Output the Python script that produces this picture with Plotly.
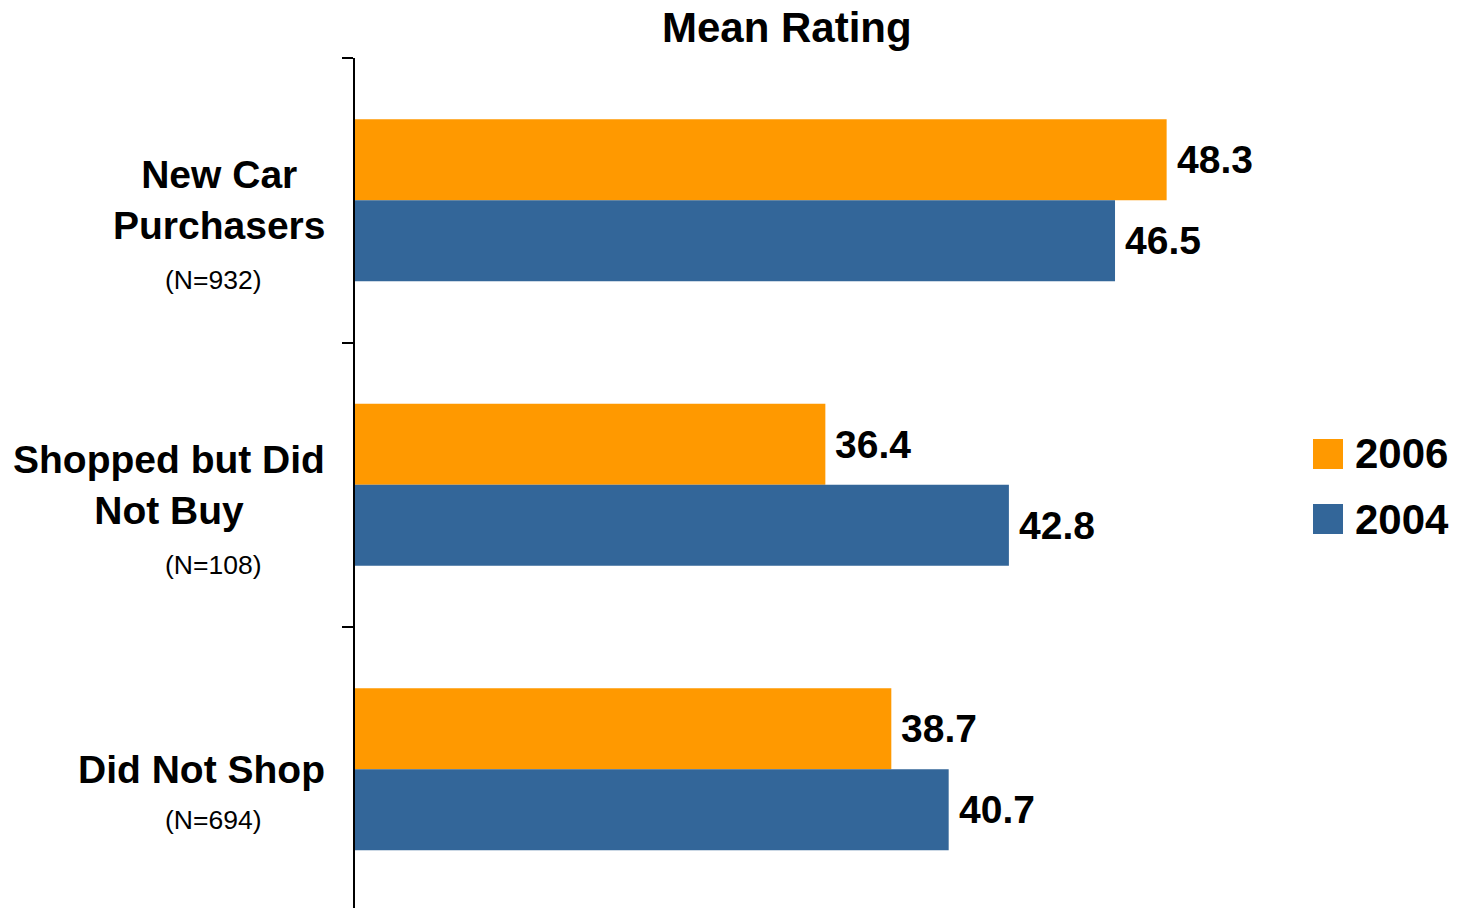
import plotly.graph_objects as go

# ---- data -------------------------------------------------------------
categories = ["New Car<br>Purchasers", "Shopped but Did<br>Not Buy", "Did Not Shop"]
sample_sizes = ["(N=932)", "(N=108)", "(N=694)"]
series_names = ["2006", "2004"]
rating_2006 = [48.3, 36.4, 38.7]
rating_2004 = [46.5, 42.8, 40.7]

# ---- styling ----------------------------------------------------------
ORANGE = "#FF9900"
BLUE = "#336699"
FONT = "Liberation Sans, Arial, sans-serif"

W, H = 1458, 908
L, R, T, B = 355, 238, 58, 0
PW, PH = W - L - R, H - T - B
X_START = 20
PX_PER_UNIT = 28.68
BAND_PX = 284.5
BARGAP = 0.43


def paper_x(px):
    return (px - L) / PW


def paper_y(py):
    return 1 - (py - T) / PH


positions = list(range(len(categories)))
series = [(series_names[0], rating_2006, ORANGE), (series_names[1], rating_2004, BLUE)]

fig = go.Figure()
for name, vals, color in series:
    fig.add_trace(go.Bar(
        y=positions, x=vals, name=name, orientation="h",
        marker=dict(color=color, line=dict(width=0)),
        showlegend=False, hoverinfo="x+name",
    ))

annotations = []

# value labels at the end of each bar
bar_w = (1 - BARGAP) / len(series)
for s_i, (name, vals, color) in enumerate(series):
    offset = -(1 - BARGAP) / 2 + bar_w * (s_i + 0.5)
    for i, v in enumerate(vals):
        annotations.append(dict(
            x=v, y=positions[i] + offset, xref="x", yref="y",
            text=f"<b>{v:.1f}</b>", showarrow=False,
            xanchor="left", yanchor="middle", xshift=8,
            font=dict(family=FONT, size=39, color="black"),
        ))

# category labels and sample sizes
for i, (cat, n) in enumerate(zip(categories, sample_sizes)):
    two_line = "<br>" in cat
    annotations.append(dict(
        x=0, y=positions[i], xref="paper", yref="y",
        text=f"<b>{cat}</b>", showarrow=False,
        xanchor="right", yanchor="middle", align="center", xshift=-28,
        font=dict(family=FONT, size=39, color="black"),
    ))
    annotations.append(dict(
        x=0, y=positions[i], xref="paper", yref="y",
        text=n, showarrow=False,
        xanchor="center", yanchor="middle", xshift=213 - L,
        yshift=-80 if two_line else -51,
        font=dict(family=FONT, size=26.5, color="black"),
    ))

# chart title
annotations.append(dict(
    x=paper_x(787), y=paper_y(28), xref="paper", yref="paper",
    text="<b>Mean Rating</b>", showarrow=False,
    xanchor="center", yanchor="middle",
    font=dict(family=FONT, size=42, color="black"),
))

# legend: coloured squares with year labels
shapes = []
legend_rows = [(439, series[0]), (504, series[1])]
for top, (name, vals, color) in legend_rows:
    shapes.append(dict(
        type="rect", xref="paper", yref="paper",
        x0=paper_x(1313), x1=paper_x(1343), y0=paper_y(top + 30), y1=paper_y(top),
        fillcolor=color, line=dict(width=0),
    ))
    annotations.append(dict(
        x=paper_x(1353), y=paper_y(top + 15), xref="paper", yref="paper",
        text=f"<b>{name}</b>", showarrow=False,
        xanchor="left", yanchor="middle",
        font=dict(family=FONT, size=42, color="black"),
    ))

fig.update_layout(
    width=W, height=H,
    margin=dict(l=L, r=R, t=T, b=B, pad=0),
    paper_bgcolor="white", plot_bgcolor="white",
    barmode="group", bargap=BARGAP, bargroupgap=0,
    font=dict(family=FONT, color="black"),
    annotations=annotations, shapes=shapes,
    xaxis=dict(
        range=[X_START, X_START + PW / PX_PER_UNIT],
        showgrid=False, zeroline=False, showline=False,
        showticklabels=False, ticks="",
    ),
    yaxis=dict(
        range=[-0.5 + PH / BAND_PX, -0.5],
        tickvals=[-0.5, 0.5, 1.5, 2.5],
        ticks="outside", ticklen=11, tickwidth=2, tickcolor="black",
        showline=True, linewidth=2, linecolor="black",
        showgrid=False, zeroline=False, showticklabels=False,
    ),
)

fig.write_html("out.html")
